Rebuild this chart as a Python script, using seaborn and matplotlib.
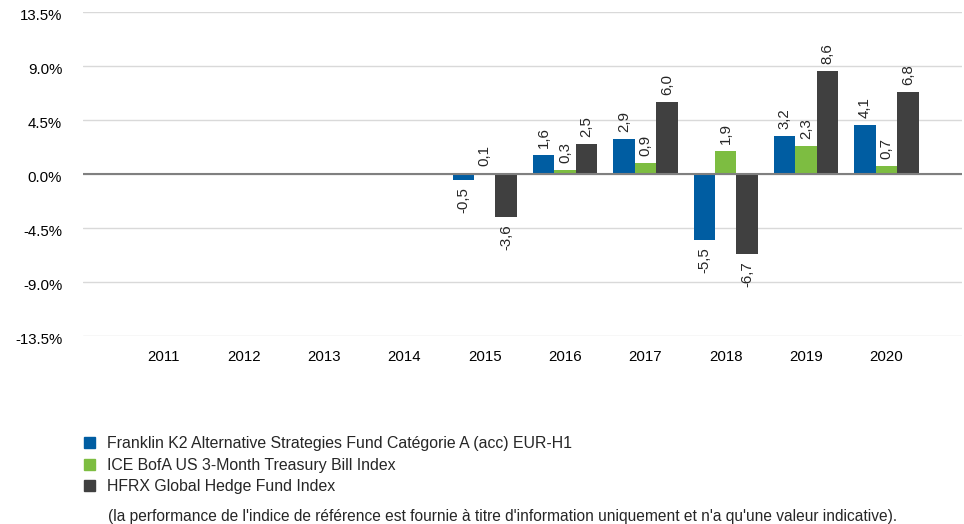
import matplotlib
matplotlib.use("Agg")
import matplotlib.pyplot as plt
import matplotlib.patches as mpatches
import matplotlib.transforms as mtrans
import seaborn as sns
import pandas as pd
import numpy as np

years = ["2011", "2012", "2013", "2014", "2015", "2016", "2017", "2018", "2019", "2020"]
series_names = [
    "Franklin K2 Alternative Strategies Fund Catégorie A (acc) EUR-H1",
    "ICE BofA US 3-Month Treasury Bill Index",
    "HFRX Global Hedge Fund Index",
]
fund = [np.nan, np.nan, np.nan, np.nan, -0.5, 1.6, 2.9, -5.5, 3.2, 4.1]
tbill = [np.nan, np.nan, np.nan, np.nan, 0.1, 0.3, 0.9, 1.9, 2.3, 0.7]
hfrx = [np.nan, np.nan, np.nan, np.nan, -3.6, 2.5, 6.0, -6.7, 8.6, 6.8]
colors = ["#005DA2", "#7DBD41", "#404040"]
yticks = [-13.5, -9.0, -4.5, 0.0, 4.5, 9.0, 13.5]
footnote = "(la performance de l'indice de référence est fournie à titre d'information uniquement et n'a qu'une valeur indicative)."

rows = []
for name, vals in zip(series_names, [fund, tbill, hfrx]):
    for y, v in zip(years, vals):
        rows.append({"year": y, "series": name, "value": v})
df = pd.DataFrame(rows)

sns.set_theme(style="white")
plt.rcParams["font.family"] = ["Liberation Sans", "DejaVu Sans"]

fig = plt.figure(figsize=(9.64, 5.24), dpi=100)
ax = fig.add_axes([83 / 964, (524 - 336) / 524, (962 - 83) / 964, (336 - 12) / 524])

sns.barplot(data=df, x="year", y="value", hue="series", order=years,
            hue_order=series_names, palette=colors, ax=ax, width=0.8,
            saturation=1, errorbar=None, legend=False, linewidth=0)

ax.set_xlim(-1, 9.94)
ax.set_ylim(-13.5, 13.5)
ax.set_yticks(yticks)
ax.set_yticklabels([f"{t:.1f}%" for t in yticks])
ax.grid(axis="y", color="#D9D9D9", linewidth=1)
ax.set_axisbelow(True)
ax.axhline(0, color="#808080", linewidth=1.5, zorder=1.5)
for s in ax.spines.values():
    s.set_visible(False)
ax.set_xlabel("")
ax.set_ylabel("")
ax.tick_params(axis="both", length=0, labelsize=10.8, colors="#000000")
ax.tick_params(axis="y", pad=15)
ax.tick_params(axis="x", pad=10)

shift = mtrans.ScaledTranslation(0, -3 / 100, fig.dpi_scale_trans)
for lbl in ax.get_yticklabels():
    lbl.set_transform(lbl.get_transform() + shift)

for cont in ax.containers:
    for bar in cont:
        h = bar.get_height()
        if np.isnan(h):
            continue
        x = bar.get_x() + bar.get_width() / 2
        lab = f"{h:.1f}".replace(".", ",")
        if h >= 0:
            ax.annotate(lab, (x, h), xytext=(0, 5), textcoords="offset points",
                        rotation=90, ha="center", va="bottom", fontsize=10.8)
        else:
            ax.annotate(lab, (x, h), xytext=(0, -5), textcoords="offset points",
                        rotation=90, ha="center", va="top", fontsize=10.8)

handles = [mpatches.Patch(color=c, label=n) for c, n in zip(colors, series_names)]
fig.legend(handles=handles, loc="upper left", bbox_to_anchor=(84 / 964, 1 - 436 / 524),
           frameon=False, fontsize=11.4, handlelength=0.7, handleheight=0.7,
           handletextpad=0.75, labelspacing=0.42, borderaxespad=0, borderpad=0)
fig.text(108 / 964, 1 - 517 / 524, footnote, fontsize=11.2, va="center", ha="left")

fig.savefig("out.png", dpi=100)
